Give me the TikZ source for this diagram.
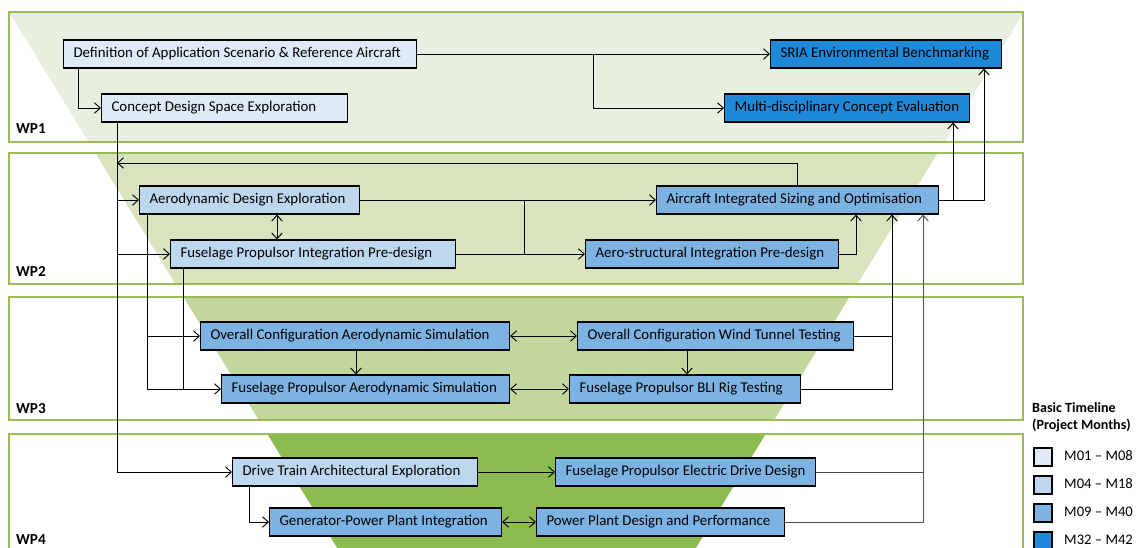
\documentclass[tikz,border=0pt]{standalone}
\usepackage{fontspec}
\setmainfont{Carlito}
\usetikzlibrary{arrows.meta}

\definecolor{tlone}{HTML}{DEEBF7}
\definecolor{tltwo}{HTML}{BDD7EE}
\definecolor{tlthree}{HTML}{7DB3E3}
\definecolor{tlfour}{HTML}{1F89D8}
\definecolor{wpone}{HTML}{E9EFDE}
\definecolor{wptwo}{HTML}{D7E4BD}
\definecolor{wpthree}{HTML}{C3D69B}
\definecolor{wpfour}{HTML}{8CBB50}
\definecolor{wpline}{HTML}{9BBB59}

\tikzset{
  task/.style={draw, line width=0.9pt, minimum height=0.84cm, inner xsep=0.3cm, anchor=west,
    text width=#1, align=flush left, font=\fontsize{12.7}{14}\selectfont},
  flow/.style={line width=0.8pt, -{Straight Barb[length=5pt,width=9pt]}},
  both/.style={line width=0.8pt, {Straight Barb[length=5pt,width=9pt]}-{Straight Barb[length=5pt,width=9pt]}},
  link/.style={line width=0.8pt},
  band/.style={draw=wpline, line width=0.9pt},
  legsq/.style={draw, line width=0.9pt, minimum size=0.54cm, inner sep=0pt},
}

\begin{document}
\begin{tikzpicture}[x=0.03cm, y=-0.03cm]
\useasboundingbox (0,0) rectangle (1141,547);
\clip (0,0) rectangle (1141,547);

% work package bands, each cutting the funnel
\foreach \ya/\yb/\fillc/\lbl/\ly in {12/142/wpone/WP1/129, 153/284/wptwo/WP2/271,
    297/420/wpthree/WP3/409, 434/600/wpfour/WP4/540} {
  \begin{scope}
    \clip (9,\ya) rectangle (1023,\yb);
    \fill[\fillc] (9,12) -- (1024,12) -- (664,600) -- (369,600) -- cycle;
  \end{scope}
  \draw[band] (9,\ya) rectangle (1023,\yb);
  \node[font=\bfseries\fontsize{13}{15}\selectfont, anchor=west] (\lbl) at (12,\ly) {\lbl};
}

% tasks
\node[task=9.99cm, fill=tlone] (def) at (63,54) {Definition of Application Scenario \& Reference Aircraft};
\node[task=6.78cm, fill=tlone] (cds) at (101,108) {Concept Design Space Exploration};
\node[task=6.33cm, fill=tlfour] (sria) at (770,54) {SRIA Environmental Benchmarking};
\node[task=6.75cm, fill=tlfour] (mdce) at (724,108) {Multi-disciplinary Concept Evaluation};
\node[task=6.0cm, fill=tltwo] (ade) at (139,200) {Aerodynamic Design Exploration};
\node[task=7.95cm, fill=tltwo] (fpi) at (170,254) {Fuselage Propulsor Integration Pre-design};
\node[task=7.86cm, fill=tlthree] (ais) at (656,200) {Aircraft Integrated Sizing and Optimisation};
\node[task=6.99cm, fill=tlthree] (asi) at (585,254) {Aero-structural Integration Pre-design};
\node[task=8.67cm, fill=tlthree] (ocas) at (200,336) {Overall Configuration Aerodynamic Simulation};
\node[task=7.68cm, fill=tlthree] (ocwt) at (577,336) {Overall Configuration Wind Tunnel Testing};
\node[task=8.04cm, fill=tlthree] (fpas) at (221,389) {Fuselage Propulsor Aerodynamic Simulation};
\node[task=6.33cm, fill=tlthree] (bli) at (569,389) {Fuselage Propulsor BLI Rig Testing};
\node[task=6.75cm, fill=tltwo] (dta) at (232,472) {Drive Train Architectural Exploration};
\node[task=7.2cm, fill=tlthree] (fped) at (555,472) {Fuselage Propulsor Electric Drive Design};
\node[task=6.36cm, fill=tlthree] (gppi) at (269,522) {Generator-Power Plant Integration};
\node[task=6.84cm, fill=tlthree] (ppdp) at (536,522) {Power Plant Design and Performance};

% where the lines run
\coordinate (jdef) at (78,0);
\coordinate (busa) at (117,0);
\coordinate (busb) at (147,0);
\coordinate (busc) at (183,0);
\coordinate (jdt) at (249,0);
\coordinate (jad) at (277,0);
\coordinate (jsim) at (356,0);
\coordinate (jpre) at (524,0);
\coordinate (spl) at (593,0);
\coordinate (jwt) at (687,0);
\coordinate (fb) at (797,163);
\coordinate (jasi) at (856,0);
\coordinate (jtest) at (892,0);
\coordinate (jdrive) at (923,0);
\coordinate (jmdce) at (953,0);
\coordinate (jsria) at (984,0);

% WP1
\draw[flow] (def.east) -- (sria.west);
\draw[flow] (def.east -| spl) |- (mdce.west);
\draw[flow] (def.south -| jdef) |- (cds.west);
\draw[flow] (cds.south -| busa) |- (dta.west);
\draw[flow] (ais.east) -| (sria.south -| jsria);
\draw[flow] (ais.east -| jmdce) -- (mdce.south -| jmdce);

% WP2
\draw[flow] (ais.north -| fb) |- (busa |- fb);
\draw[flow] (busa |- ade.west) -- (ade.west);
\draw[flow] (busa |- fpi.west) -- (fpi.west);
\draw[flow] (ade.east) -- (ais.west);
\draw[link] (jpre |- ade.east) -- (jpre |- fpi.east);
\draw[flow] (fpi.east) -- (asi.west);
\draw[both] (ade.south -| jad) -- (fpi.north -| jad);
\draw[flow] (asi.east) -| (ais.south -| jasi);

% WP3
\draw[flow] (ade.south -| busb) |- (fpas.west);
\draw[flow] (busb |- ocas.west) -- (ocas.west);
\draw[link] (fpi.south -| busc) -- (busc |- fpas.west);
\draw[both] (ocas.east) -- (ocwt.west);
\draw[both] (fpas.east) -- (bli.west);
\draw[flow] (ocas.south -| jsim) -- (fpas.north -| jsim);
\draw[flow] (ocwt.south -| jwt) -- (bli.north -| jwt);
\draw[link] (ocwt.east) -- (ocwt.east -| jtest);
\draw[flow] (bli.east) -| (ais.south -| jtest);

% WP4
\draw[flow] (dta.east) -- (fped.west);
\draw[flow] (dta.south -| jdt) |- (gppi.west);
\draw[both] (gppi.east) -- (ppdp.west);
\draw[link, black!70] (fped.east) -- (fped.east -| jdrive);
\draw[flow, black!70] (ppdp.east) -| (ais.south -| jdrive);

% legend
\node[anchor=north west, align=left, inner sep=0pt,
  font=\bfseries\fontsize{12}{14.5}\selectfont] (legtitle) at (1032,402) {Basic Timeline\\(Project Months)};
\foreach \i/\fillc/\mlabel in {0/tlone/M01 – M08, 1/tltwo/M04 – M18, 2/tlthree/M09 – M40, 3/tlfour/M32 – M42} {
  \node[legsq, fill=\fillc] (sq\i) at (1043,457+28*\i) {};
  \node[anchor=west, inner sep=0pt, font=\fontsize{12.5}{14}\selectfont] (per\i) at (1064,456+28*\i) {\mlabel};
}
\end{tikzpicture}
\end{document}
